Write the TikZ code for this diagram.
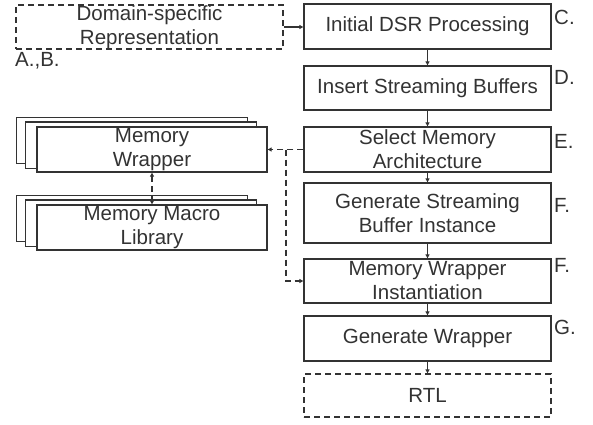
\documentclass[tikz,border=0pt]{standalone}
\usepackage{fontspec}
\setmainfont{Liberation Sans}
\usetikzlibrary{arrows.meta,backgrounds}
\definecolor{ink}{HTML}{333333}
\begin{document}
\begin{tikzpicture}[x=1pt,y=-1pt,
  txt/.style={text=ink, font=\fontsize{20.5}{24}\selectfont},
  box/.style={txt, draw=ink, line width=1.3pt, fill=white, inner sep=0pt, align=center},
  mainbox/.style={box, minimum width=247pt},
  sidebox/.style={box, minimum width=230pt, minimum height=45pt},
  dashbox/.style={dash pattern=on 6pt off 4pt},
  lab/.style={txt, inner sep=0pt},
  conn/.style={draw=ink, line width=1.1pt, -{Triangle[length=4pt,width=4pt]}},
  dconn/.style={conn, dash pattern=on 6pt off 4pt},
  back/.style={draw=ink, line width=1.3pt, fill=white}]
\useasboundingbox (0,0) rectangle (593,424);

\node[box, dashbox, minimum width=267pt, minimum height=44pt] (dsr) at (149.5,27) {Domain-specific\\Representation};
\node[lab, anchor=west] (lab) at (15,61) {A.,B.};

\node[mainbox, minimum height=45pt] (init) at (427.5,26.5) {Initial DSR Processing};
\node[mainbox, minimum height=44pt] (insert) at (427.5,88) {Insert Streaming Buffers};
\node[mainbox, minimum height=45pt] (select) at (427.5,149.5) {Select Memory\\Architecture};
\node[mainbox, minimum height=60pt] (gen) at (427.5,213) {Generate Streaming\\Buffer Instance};
\node[mainbox, minimum height=44pt] (inst) at (427.5,281) {Memory Wrapper\\Instantiation};
\node[mainbox, minimum height=45pt] (genw) at (427.5,338.5) {Generate Wrapper};
\node[mainbox, dashbox, minimum height=43pt] (rtl) at (427.5,395.5) {RTL};

\node[lab, anchor=west] (lc) at (554,17) {C.};
\node[lab, anchor=west] (ld) at (554,77) {D.};
\node[lab, anchor=west] (le) at (554,141) {E.};
\node[lab, anchor=west] (lf1) at (554,205) {F.};
\node[lab, anchor=west] (lf2) at (554,265) {F.};
\node[lab, anchor=west] (lg) at (554,327) {G.};

\node[sidebox] (mw) at (152,149.5) {Memory\\Wrapper};
\node[sidebox] (mml) at (152,227.5) {Memory Macro\\Library};

\begin{scope}[on background layer]
  \foreach \n in {mw,mml}{
    \draw[back] ([shift={(-20,-9)}]\n.south west) rectangle ([shift={(-20,-9)}]\n.north east);
    \draw[back] ([shift={(-11,-4.5)}]\n.south west) rectangle ([shift={(-11,-4.5)}]\n.north east);
  }
\end{scope}

\draw[conn] (dsr.east) -- (init.west |- dsr.east);
\draw[conn] (init) -- (insert);
\draw[conn] (insert) -- (select);
\draw[conn] (select) -- (gen);
\draw[conn] (gen) -- (inst);
\draw[conn] (inst) -- (genw);
\draw[conn] (genw) -- (rtl);

\coordinate (j) at (286,149.5);
\draw[dconn] (select.west) -- (mw.east);
\draw[dconn] (j) |- (inst.west);
\draw[dconn, {Triangle[length=4pt,width=4pt]}-{Triangle[length=4pt,width=4pt]}] (mw.south) -- (mml.north);
\end{tikzpicture}
\end{document}
